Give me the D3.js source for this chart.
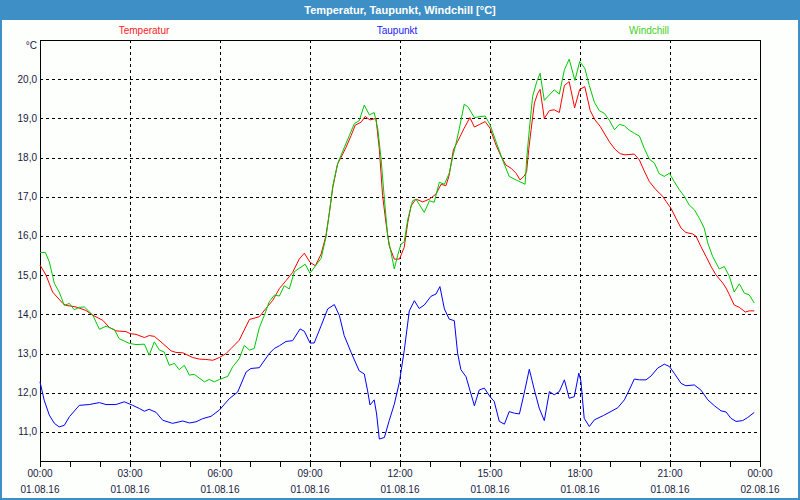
<!DOCTYPE html>
<html><head><meta charset="utf-8">
<script src="https://cdn.jsdelivr.net/npm/d3@7"></script>
<style>
html,body{margin:0;padding:0;background:#fff;}
svg text{font-family:"Liberation Sans",Arial,sans-serif;}
</style></head>
<body>
<svg id="chart" width="800" height="500"></svg>
<script>
const title = "Temperatur, Taupunkt, Windchill [°C]";
const seriesNames = ["Temperatur", "Taupunkt", "Windchill"];
const seriesColors = ["#ff0000", "#0000ff", "#00c800"];
const legendColors = ["#ff2020", "#2020ff", "#40d020"];
const yTicks = [11, 12, 13, 14, 15, 16, 17, 18, 19, 20];
const xMajorHours = [0, 3, 6, 9, 12, 15, 18, 21, 24];
const timeLabels = ["00:00","03:00","06:00","09:00","12:00","15:00","18:00","21:00","00:00"];
const dateLabels = ["01.08.16","01.08.16","01.08.16","01.08.16","01.08.16","01.08.16","01.08.16","01.08.16","02.08.16"];

// Temperatur (hours, °C)
const tempHours = [0,0.2,0.42,0.76,0.87,1.2,1.53,1.76,2.09,2.31,2.53,2.87,3.0,3.2,3.48,3.64,3.81,4.03,4.37,4.53,4.76,5.09,5.31,5.53,5.76,5.98,6.2,6.37,6.64,6.98,7.31,7.53,7.76,
 7.98,8.2,8.42,8.64,8.81,9.0,9.18,9.37,9.53,9.64,9.76,9.92,10.03,10.2,10.37,10.51,10.7,10.84,11.0,11.2,11.31,11.42,11.53,11.64,11.81,11.98,12.14,12.26,12.37,12.53,12.76,12.98,13.2,13.37,13.53,
 13.64,13.78,13.92,14.14,14.33,14.48,14.64,14.84,15.0,15.2,15.37,15.53,15.7,15.87,16.0,16.14,16.22,16.29,16.37,16.48,16.59,16.67,16.81,16.98,17.14,17.31,17.48,17.64,17.82,17.99,18.16,
 18.34,18.5,18.67,18.84,19.0,19.17,19.34,19.5,19.81,19.98,20.14,20.31,20.53,20.76,20.87,21.03,21.2,21.37,21.53,21.76,21.87,22.03,22.2,22.37,22.53,22.76,22.87,22.98,23.14,23.31,23.51,23.64,23.81];
const tempValues = [15.26,15.0,14.57,14.28,14.23,14.19,14.1,13.98,13.85,13.67,13.58,13.56,13.51,13.49,13.41,13.46,13.44,13.3,13.07,13.03,13.02,12.9,12.86,12.85,12.83,12.9,13.0,13.13,13.34,13.87,13.94,14.15,14.36,
 14.66,14.86,15.07,15.41,15.56,15.33,15.24,15.54,16.0,16.56,17.24,17.84,18.0,18.26,18.56,18.83,18.9,19.05,18.96,19.0,18.22,17.03,16.35,15.75,15.41,15.41,15.71,16.35,16.77,16.94,16.87,16.94,17.07,17.32,17.28,
 17.55,18.2,18.41,18.75,19.02,18.78,18.84,18.92,18.75,18.32,18.03,17.81,17.73,17.6,17.43,17.53,17.64,18.2,18.71,19.39,19.64,19.74,19.0,19.2,19.22,19.15,19.84,19.94,19.27,19.74,19.81,
 19.2,18.96,18.8,18.58,18.38,18.21,18.1,18.07,18.09,17.94,17.66,17.39,17.18,17.01,16.88,16.71,16.45,16.2,16.09,16.05,15.99,15.73,15.48,15.22,15.01,14.8,14.67,14.5,14.24,14.18,14.06,14.09,14.09];

// Taupunkt (hours, °C)
const dewHours = [0,0.14,0.31,0.48,0.64,0.81,0.98,1.31,1.64,1.98,2.2,2.53,2.81,3.09,3.31,3.48,3.64,3.87,4.09,4.42,4.76,4.98,5.2,5.42,5.7,5.98,6.31,6.59,6.87,7.03,7.31,7.64,7.81,
 7.98,8.2,8.42,8.67,8.81,9.0,9.14,9.37,9.59,9.81,9.98,10.14,10.37,10.64,10.81,10.92,11.0,11.14,11.22,11.31,11.48,11.64,11.81,11.98,12.14,12.31,12.48,12.64,12.81,13.03,13.2,13.33,13.48,13.64,13.81,
 13.92,14.03,14.2,14.48,14.64,14.81,15.0,15.14,15.31,15.48,15.64,15.81,15.98,16.14,16.31,16.48,16.64,16.81,16.98,17.14,17.31,17.48,17.64,17.81,17.96,18.03,18.14,18.31,18.48,18.78,19.0,19.26,19.48,19.64,19.81,19.98,
 20.2,20.37,20.59,20.81,20.98,21.14,21.37,21.53,21.81,22.03,22.26,22.48,22.7,22.87,23.03,23.2,23.42,23.59,23.81];
const dewValues = [12.28,11.81,11.43,11.22,11.13,11.17,11.39,11.68,11.7,11.75,11.7,11.7,11.77,11.68,11.6,11.53,11.58,11.5,11.3,11.22,11.28,11.23,11.26,11.34,11.4,11.56,11.85,12.02,12.53,12.62,12.64,13.0,13.13,
 13.2,13.31,13.33,13.63,13.57,13.27,13.27,13.71,14.14,14.25,13.97,13.46,13.03,12.56,12.48,12.05,11.69,11.82,11.46,10.82,10.86,11.29,11.71,12.27,13.07,14.09,14.35,14.15,14.24,14.46,14.52,14.71,14.14,13.88,13.84,
 13.01,12.59,12.41,11.67,12.07,12.12,11.9,11.78,11.27,11.2,11.52,11.48,11.46,11.99,12.6,12.07,11.61,11.29,12.03,11.95,12.03,12.33,11.86,11.9,12.5,12.3,11.35,11.14,11.31,11.42,11.51,11.62,11.82,12.07,12.35,12.33,
 12.33,12.43,12.63,12.73,12.67,12.5,12.24,12.18,12.2,12.07,11.82,11.67,11.54,11.51,11.35,11.27,11.29,11.37,11.5];

// Windchill (hours, °C)
const chillHours = [0,0.18,0.31,0.48,0.64,0.81,0.98,1.14,1.31,1.48,1.76,1.98,2.2,2.48,2.64,2.98,3.2,3.48,3.64,3.81,3.98,4.14,4.31,4.48,4.64,4.81,4.98,5.14,5.48,5.64,5.81,5.98,6.26,6.42,6.64,6.81,6.98,7.14,7.31,7.48,7.64,7.81,
 7.98,8.14,8.31,8.48,8.84,9.0,9.37,9.53,9.64,9.76,9.92,10.03,10.31,10.48,10.64,10.81,10.98,11.14,11.26,11.37,11.48,11.59,11.7,11.81,11.92,12.03,12.14,12.26,12.42,12.53,12.81,12.98,13.14,13.31,13.48,
 13.64,13.76,13.87,13.98,14.14,14.26,14.48,14.7,14.84,15.0,15.2,15.42,15.64,15.87,16.17,16.22,16.31,16.42,16.56,16.67,16.81,16.98,17.14,17.31,17.48,17.64,17.83,17.99,18.16,
 18.31,18.48,18.64,18.81,18.98,19.15,19.31,19.48,19.64,19.81,19.98,20.14,20.31,20.48,20.64,20.81,20.98,21.14,21.31,21.48,21.64,21.81,21.98,22.14,22.26,22.42,22.64,22.81,22.98,23.14,23.31,23.48,23.64,23.81];
const chillValues = [15.58,15.58,15.34,14.79,14.57,14.23,14.28,14.12,14.18,14.19,13.98,13.62,13.7,13.61,13.38,13.26,13.23,13.24,12.96,13.3,13.09,13.04,12.7,12.75,12.59,12.7,12.45,12.47,12.28,12.34,12.28,12.34,12.42,12.66,12.87,13.21,13.09,13.13,13.66,13.98,14.32,14.49,
 14.47,14.73,14.65,15.09,15.28,15.05,15.43,15.96,16.56,17.28,17.84,18.05,18.56,18.87,18.94,19.34,19.09,19.15,18.73,17.96,16.94,16.0,15.58,15.16,15.5,15.79,15.85,16.43,16.9,16.94,16.6,16.9,16.86,17.37,17.32,
 17.6,18.03,18.37,18.75,19.36,19.3,19.02,19.05,19.06,18.84,18.41,17.94,17.52,17.43,17.32,17.94,18.71,19.56,19.94,20.15,19.46,19.6,19.73,19.62,20.24,20.51,19.97,20.45,20.28,
 19.84,19.41,19.2,19.13,18.95,18.71,18.85,18.81,18.7,18.62,18.55,18.24,17.96,17.86,17.59,17.52,17.6,17.39,17.18,17.01,16.79,16.67,16.45,16.2,15.82,15.48,15.16,15.22,14.97,14.57,14.78,14.54,14.5,14.29];

const svg = d3.select("#chart");
const W = 800, H = 500;
const plot = {left: 40, right: 760, top: 40, bottom: 461};

// frame
svg.append("rect").attr("x",0).attr("y",0).attr("width",W).attr("height",H).attr("fill","#3d8fc6");
svg.append("rect").attr("x",2).attr("y",20).attr("width",W-4).attr("height",H-22).attr("fill","#fdfffd");
svg.append("text").attr("x",W/2).attr("y",14).attr("text-anchor","middle")
  .attr("fill","#ffffff").attr("font-weight","bold").attr("font-size","11px").text(title);

const x = d3.scaleLinear().domain([0, 24]).range([plot.left, plot.right]);
const y = d3.scaleLinear().domain([10.26, 21.0]).range([plot.bottom, plot.top]);

// grid
const g = svg.append("g");
g.selectAll("line.hg").data(yTicks).join("line")
  .attr("x1", plot.left).attr("x2", plot.right)
  .attr("y1", d => Math.round(y(d)) + 0.5).attr("y2", d => Math.round(y(d)) + 0.5)
  .attr("stroke", "#000").attr("stroke-width", 1).attr("stroke-dasharray", "3,3");
g.selectAll("line.vg").data(xMajorHours.slice(1, -1)).join("line")
  .attr("y1", plot.top).attr("y2", plot.bottom)
  .attr("x1", d => Math.round(x(d)) + 0.5).attr("x2", d => Math.round(x(d)) + 0.5)
  .attr("stroke", "#000").attr("stroke-width", 1).attr("stroke-dasharray", "3,3");

// x axis ticks (hourly)
const xAxis = d3.axisBottom(x).tickValues(d3.range(0, 25, 1)).tickSize(6).tickFormat("");
const xa = svg.append("g").attr("transform", `translate(0,${plot.bottom})`).call(xAxis);
xa.select(".domain").remove();
xa.selectAll(".tick line").attr("stroke", "#000");

// x labels
const xl = svg.append("g");
xl.selectAll("text.t").data(xMajorHours).join("text")
  .attr("x", d => x(d)).attr("y", 477).attr("text-anchor", "middle")
  .attr("font-size", "10px").attr("fill", "#1a1a40").text((d, i) => timeLabels[i]);
xl.selectAll("text.d").data(xMajorHours).join("text")
  .attr("x", d => x(d)).attr("y", 493).attr("text-anchor", "middle")
  .attr("font-size", "10px").attr("fill", "#1a1a40").text((d, i) => dateLabels[i]);

// y labels
const fmt = d => d.toFixed(1).replace(".", ",");
svg.append("g").selectAll("text").data(yTicks).join("text")
  .attr("x", 37).attr("y", d => y(d) + 3.5).attr("text-anchor", "end")
  .attr("font-size", "10px").attr("fill", "#1a1a40").text(fmt);
svg.append("text").attr("x", 37).attr("y", 49).attr("text-anchor", "end")
  .attr("font-size", "10px").attr("fill", "#1a1a40").text("°C");

// plot border
svg.append("rect").attr("x", plot.left + 0.5).attr("y", plot.top + 0.5)
  .attr("width", plot.right - plot.left).attr("height", plot.bottom - plot.top)
  .attr("fill", "none").attr("stroke", "#000").attr("stroke-width", 1);

// series
const series = [
  {hours: tempHours, values: tempValues},
  {hours: dewHours, values: dewValues},
  {hours: chillHours, values: chillValues}
];
const line = d3.line().x(d => x(d[0])).y(d => y(d[1]));
const drawOrder = [0, 2, 1];
drawOrder.forEach(i => {
  const s = series[i];
  const pts = s.hours.map((h, k) => [h, s.values[k]]);
  svg.append("path").datum(pts).attr("d", line)
    .attr("fill", "none").attr("stroke", seriesColors[i]).attr("stroke-width", 1);
});

// legend
const legendX = [144, 397, 649];
svg.append("g").selectAll("text").data(seriesNames).join("text")
  .attr("x", (d, i) => legendX[i]).attr("y", 34).attr("text-anchor", "middle")
  .attr("font-size", "10px").attr("fill", (d, i) => legendColors[i]).text(d => d);
</script>
</body></html>
